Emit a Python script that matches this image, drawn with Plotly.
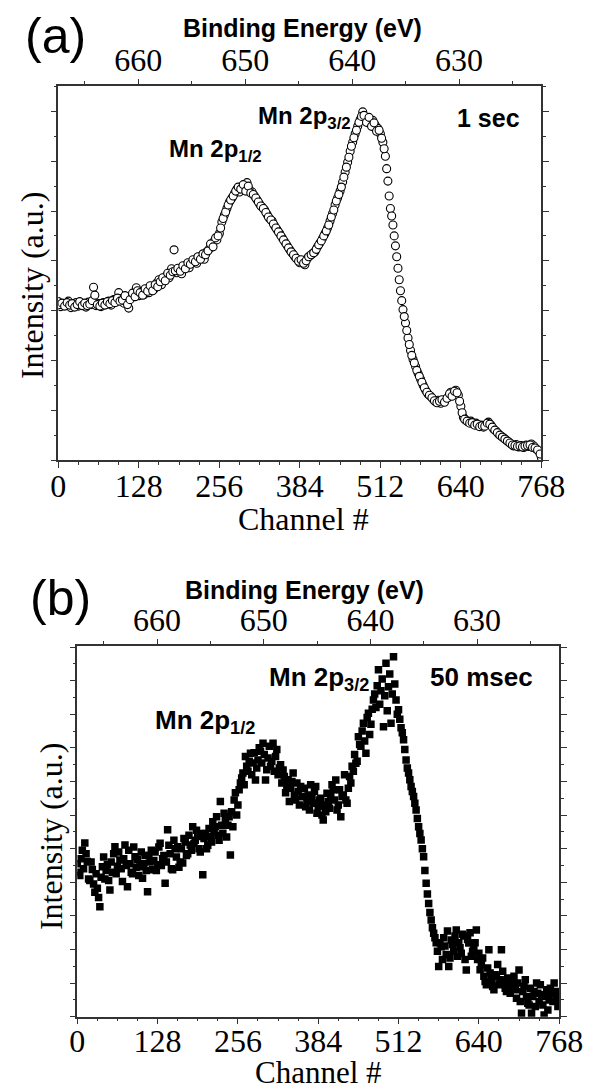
import plotly.graph_objects as go

# channel grids and spectra
channels = list(range(0, 769, 4))
channels_mid = list(range(2, 767, 4))

# (a) 1 sec, intensity in major-tick units
int_1sec = [
    3.18, 3.08, 3.14, 3.10, 3.19, 3.06, 3.13, 3.16, 3.09, 3.15,
    3.11, 3.07, 3.17, 3.12, 3.47, 3.10, 3.14, 3.08, 3.16, 3.12,
    3.19, 3.11, 3.22, 3.17, 3.36, 3.24, 3.15, 3.20, 3.05, 3.27,
    3.33, 3.46, 3.30, 3.38, 3.32, 3.41, 3.36, 3.47, 3.43, 3.55,
    3.62, 3.52, 3.64, 3.70, 3.66, 3.84, 4.22, 3.76, 3.82, 3.74,
    3.88, 3.92, 3.86, 3.97, 4.01, 3.95, 4.06, 4.10, 4.03, 4.18,
    4.24, 4.30, 4.40, 4.42, 4.55, 4.78, 4.92, 5.05, 5.18, 5.26,
    5.35, 5.44, 5.38, 5.50, 5.47, 5.57, 5.42, 5.38, 5.30, 5.22,
    5.14, 5.08, 5.02, 4.93, 4.85, 4.80, 4.70, 4.62, 4.55, 4.46,
    4.38, 4.30, 4.22, 4.15, 4.08, 4.03, 3.96, 4.00, 3.92, 4.05,
    4.10, 4.14, 4.18, 4.28, 4.36, 4.45, 4.55, 4.66, 4.80, 4.95,
    5.12, 5.26, 5.40, 5.58, 5.78, 5.98, 6.20, 6.38, 6.55, 6.70,
    6.84, 6.99, 6.86, 6.80, 6.75, 6.82, 6.72, 6.66, 6.55, 6.38,
    6.10, 5.60, 5.05, 4.72, 4.30, 3.85, 3.40, 3.02, 2.75, 2.45,
    2.20, 2.02, 1.88, 1.74, 1.62, 1.50, 1.40, 1.32, 1.28, 1.22,
    1.17, 1.20, 1.14, 1.19, 1.22, 1.26, 1.36, 1.31, 1.40, 1.30,
    1.08, 0.86, 0.80, 0.76, 0.78, 0.72, 0.74, 0.68, 0.70, 0.66,
    0.71, 0.76, 0.70, 0.62, 0.58, 0.52, 0.48, 0.44, 0.40, 0.36,
    0.32, 0.28, 0.31, 0.26, 0.29, 0.25, 0.30, 0.27, 0.32, 0.28,
    0.22, 0.18, 0.05,
]
int_1sec_mid = [
    3.12, 3.15, 3.09, 3.16, 3.11, 3.14, 3.07, 3.12, 3.18, 3.10,
    3.15, 3.10, 3.13, 3.20, 3.31, 3.12, 3.09, 3.15, 3.11, 3.18,
    3.14, 3.20, 3.16, 3.25, 3.19, 3.21, 3.30, 3.12, 3.22, 3.35,
    3.28, 3.40, 3.36, 3.31, 3.44, 3.39, 3.50, 3.40, 3.52, 3.48,
    3.58, 3.66, 3.60, 3.75, 3.71, 3.78, 3.80, 3.85, 3.79, 3.90,
    3.84, 3.96, 3.93, 4.02, 3.98, 4.08, 4.03, 4.14, 4.12, 4.20,
    4.34, 4.28, 4.46, 4.50, 4.66, 4.85, 4.98, 5.12, 5.22, 5.30,
    5.40, 5.48, 5.44, 5.53, 5.40, 5.50, 5.36, 5.33, 5.26, 5.18,
    5.10, 5.05, 4.97, 4.88, 4.82, 4.74, 4.66, 4.58, 4.50, 4.42,
    4.34, 4.26, 4.18, 4.12, 4.05, 3.99, 4.02, 3.95, 4.00, 4.08,
    4.12, 4.16, 4.23, 4.32, 4.40, 4.50, 4.60, 4.72, 4.88, 5.02,
    5.20, 5.33, 5.48, 5.68, 5.88, 6.08, 6.30, 6.47, 6.62, 6.78,
    6.90, 6.92, 6.78, 6.88, 6.70, 6.77, 6.60, 6.62, 6.46, 6.25,
    5.85, 5.30, 4.90, 4.50, 4.08, 3.62, 3.20, 2.88, 2.60, 2.32,
    2.10, 1.95, 1.80, 1.68, 1.56, 1.45, 1.36, 1.30, 1.25, 1.19,
    1.15, 1.18, 1.21, 1.16, 1.24, 1.33, 1.28, 1.38, 1.35, 1.18,
    0.95, 0.82, 0.78, 0.74, 0.75, 0.70, 0.72, 0.67, 0.69, 0.68,
    0.74, 0.72, 0.66, 0.60, 0.55, 0.50, 0.46, 0.42, 0.38, 0.34,
    0.30, 0.29, 0.27, 0.28, 0.26, 0.28, 0.29, 0.30, 0.25, 0.24,
    0.20, 0.12,
]

# (b) 50 msec
int_50ms = [
    4.55, 4.20, 4.95, 5.17, 4.62, 4.05, 4.38, 3.70, 3.82, 3.27,
    4.46, 4.10, 4.52, 3.77, 4.30, 5.06, 4.48, 4.66, 4.02, 5.11,
    3.87, 4.55, 4.25, 4.76, 4.68, 4.46, 4.12, 4.80, 3.72, 4.60,
    4.37, 4.90, 4.52, 5.16, 4.70, 3.97, 5.56, 4.85, 4.37, 5.00,
    5.06, 4.60, 4.57, 5.20, 4.85, 5.11, 5.65, 5.25, 5.36, 4.90,
    4.22, 5.45, 5.10, 5.36, 5.80, 5.65, 5.40, 6.40, 5.46, 5.90,
    5.70, 4.81, 5.65, 6.66, 6.30, 6.95, 7.25, 7.74, 7.30, 7.84,
    7.55, 7.04, 7.64, 7.90, 8.14, 7.04, 7.70, 7.45, 8.14, 7.74,
    7.20, 7.50, 7.34, 6.66, 7.05, 6.80, 7.25, 6.45, 6.70, 6.85,
    6.55, 6.25, 6.60, 6.90, 6.35, 6.85, 6.25, 6.50, 5.85, 6.10,
    6.40, 6.55, 6.75, 7.04, 6.30, 5.95, 6.60, 6.45, 6.80, 6.95,
    7.30, 7.54, 8.33, 8.05, 8.73, 7.84, 9.03, 8.70, 9.42, 9.20,
    10.32, 9.70, 8.63, 10.52, 9.82, 8.73, 10.71, 9.42, 9.13, 8.60,
    8.24, 7.64, 7.25, 6.85, 6.55, 6.15, 5.65, 5.26, 4.76, 3.97,
    3.37, 2.88, 2.48, 2.20, 1.49, 2.08, 2.35, 1.85, 1.49, 2.28,
    1.95, 2.58, 2.20, 1.89, 2.40, 1.39, 2.19, 1.80, 2.05, 2.58,
    1.89, 1.55, 1.20, 0.95, 1.99, 1.10, 0.80, 1.18, 0.95, 1.99,
    1.05, 0.75, 1.00, 0.85, 1.20, 0.55, 1.39, 0.10, 0.90, 0.60,
    0.35, 0.10, 0.75, 1.00, 0.45, 0.65, 0.05, 0.80, 0.50, 0.70,
    1.00, 0.55, 0.40,
]
int_50ms_mid = [
    4.30, 4.70, 4.40, 4.85, 4.10, 4.60, 3.95, 4.25, 3.55, 4.15,
    4.75, 4.35, 4.05, 4.60, 4.85, 4.25, 4.90, 4.40, 4.70, 4.50,
    4.95, 4.30, 5.05, 4.45, 4.20, 4.90, 4.55, 4.35, 4.80, 4.95,
    4.65, 4.35, 5.05, 4.50, 4.80, 4.60, 5.10, 4.40, 5.25, 4.75,
    4.45, 5.00, 5.30, 4.80, 5.40, 4.95, 5.15, 5.55, 5.00, 5.45,
    5.30, 5.00, 5.60, 5.20, 5.50, 5.95, 5.25, 5.70, 6.05, 5.35,
    5.95, 6.10, 6.45, 6.00, 6.75, 7.10, 6.90, 7.45, 7.60, 7.20,
    7.85, 7.40, 8.00, 7.55, 7.80, 7.35, 8.05, 7.60, 7.30, 7.95,
    7.40, 6.95, 7.15, 6.85, 6.40, 7.00, 6.60, 6.95, 6.30, 6.55,
    6.80, 6.40, 6.15, 6.55, 6.70, 6.05, 6.45, 6.00, 6.30, 6.65,
    6.20, 6.90, 6.45, 6.15, 6.75, 6.55, 7.20, 6.35, 7.15, 7.45,
    7.80, 7.60, 8.10, 8.50, 8.20, 8.90, 8.40, 9.15, 9.60, 9.85,
    9.30, 10.05, 9.55, 9.10, 10.20, 9.60, 9.90, 9.00, 8.85, 8.45,
    7.95, 7.40, 7.05, 6.70, 6.35, 5.90, 5.45, 5.00, 4.35, 3.65,
    3.10, 2.65, 2.35, 1.95, 2.20, 1.70, 2.10, 2.55, 1.75, 2.15,
    2.40, 1.80, 2.05, 2.45, 1.70, 2.30, 2.50, 1.95, 2.20, 1.70,
    1.40, 1.75, 1.05, 1.45, 1.30, 0.90, 1.25, 1.55, 1.10, 1.35,
    0.85, 1.15, 0.70, 1.05, 0.80, 1.00, 0.45, 0.75, 1.10, 0.40,
    0.85, 0.60, 0.30, 0.70, 0.95, 0.35, 0.60, 0.20, 0.85, 0.45,
    0.75, 0.30,
]

channel_ticks = [0, 128, 256, 384, 512, 640, 768]
energy_ticks = [660, 650, 640, 630]
energy_minor = [665, 655, 645, 635, 625]
energy_range = [667.48, 622.3]   # binding energy at channel 0 and 768

# page body has an 8px margin, so the figure is made 8px smaller and
# positions below are given in window pixels
OFF = 8
W, H = 613 - OFF, 1090 - OFF
def px(x):
    return (x - OFF) / W
def py(y):
    return 1 - (y - OFF) / H

AXC = "#333333"
SERIF = "Liberation Serif, Times New Roman, serif"
SANS = "Liberation Sans, Arial, sans-serif"

fig = go.Figure()

fig.add_trace(go.Scatter(x=channels + channels_mid, y=int_1sec + int_1sec_mid,
                         mode="markers", xaxis="x", yaxis="y",
                         marker=dict(symbol="circle", size=8, color="white",
                                     line=dict(color="black", width=1.1)),
                         showlegend=False, hoverinfo="skip"))
fig.add_trace(go.Scatter(x=[640], y=[None], mode="markers", xaxis="x2", yaxis="y",
                         showlegend=False, hoverinfo="skip"))
fig.add_trace(go.Scatter(x=channels + channels_mid, y=int_50ms + int_50ms_mid,
                         mode="markers", xaxis="x3", yaxis="y2",
                         marker=dict(symbol="square", size=7.5, color="black", line=dict(width=0)),
                         showlegend=False, hoverinfo="skip"))
fig.add_trace(go.Scatter(x=[640], y=[None], mode="markers", xaxis="x4", yaxis="y2",
                         showlegend=False, hoverinfo="skip"))

def chan_axis(dom, anchor, standoff):
    return dict(domain=dom, anchor=anchor, range=[0, 768], tickvals=channel_ticks,
                ticks="outside", ticklen=6, tickwidth=1.3, tickcolor=AXC,
                minor=dict(ticks="outside", ticklen=3, dtick=32, tick0=0, tickcolor=AXC),
                showline=True, linecolor=AXC, linewidth=1.5, showgrid=False, zeroline=False,
                tickfont=dict(family=SERIF, size=32, color="black"), ticklabelstandoff=standoff)

def energy_axis(overlay, anchor):
    return dict(overlaying=overlay, anchor=anchor, side="top", range=energy_range,
                tickvals=energy_ticks, ticks="outside", ticklen=5, tickwidth=1.3, tickcolor=AXC,
                minor=dict(ticks="outside", ticklen=3, tickvals=energy_minor, tickcolor=AXC),
                showline=True, linecolor=AXC, linewidth=1.5, showgrid=False, zeroline=False,
                tickfont=dict(family=SERIF, size=32, color="black"), ticklabelstandoff=-5)

def int_axis(dom, anchor, top):
    return dict(domain=dom, anchor=anchor, range=[0, top], dtick=1, tick0=0,
                showticklabels=False, ticks="outside", ticklen=6, tickwidth=1.3, tickcolor=AXC,
                minor=dict(ticks="outside", ticklen=3, dtick=0.5, tick0=0, tickcolor=AXC),
                showline=True, linecolor=AXC, linewidth=1.5, mirror="ticks",
                showgrid=False, zeroline=False)

fig.update_layout(
    width=W, height=H, margin=dict(l=0, r=0, t=0, b=0),
    paper_bgcolor="white", plot_bgcolor="white",
    xaxis=chan_axis([px(52.7), px(562.7)], "y", -9),
    xaxis2=energy_axis("x", "y"),
    yaxis=int_axis([py(460), py(86)], "x", 7.51),
    xaxis3=chan_axis([px(72.7), px(581.5)], "y2", -11),
    xaxis4=energy_axis("x3", "y2"),
    yaxis2=int_axis([py(1016.7), py(646)], "x3", 11.03),
)

def note(text, x, y, size, family=SANS, xanchor="center", angle=0):
    fig.add_annotation(text=text, x=px(x), y=py(y), xref="paper", yref="paper",
                       xanchor=xanchor, yanchor="middle", showarrow=False, textangle=angle,
                       font=dict(family=family, size=size, color="black"))

# panel (a)
note("(a)", 50, 36, 50)
note("<b>Binding Energy (eV)</b>", 311, 28, 25)
note("<b>Mn 2p<sub>1/2</sub></b>", 167, 150, 24, xanchor="left")
note("<b>Mn 2p<sub>3/2</sub></b>", 261, 117, 24, xanchor="left")
note("<b>1 sec</b>", 471, 118, 25, xanchor="left")
note("Channel #", 312, 519, 32, family=SERIF)
note("Intensity (a.u.)", 25, 285, 32, family=SERIF, angle=-90)

# panel (b)
note("(b)", 55, 598, 50)
note("<b>Binding Energy (eV)</b>", 313, 590, 25)
note("<b>Mn 2p<sub>1/2</sub></b>", 153, 721, 26, xanchor="left")
note("<b>Mn 2p<sub>3/2</sub></b>", 273, 678, 26, xanchor="left")
note("<b>50 msec</b>", 443, 677, 26, xanchor="left")
note("Channel #", 327, 1072, 31, family=SERIF)
note("Intensity (a.u.)", 45, 836, 32, family=SERIF, angle=-90)

fig.write_html("out.html")
